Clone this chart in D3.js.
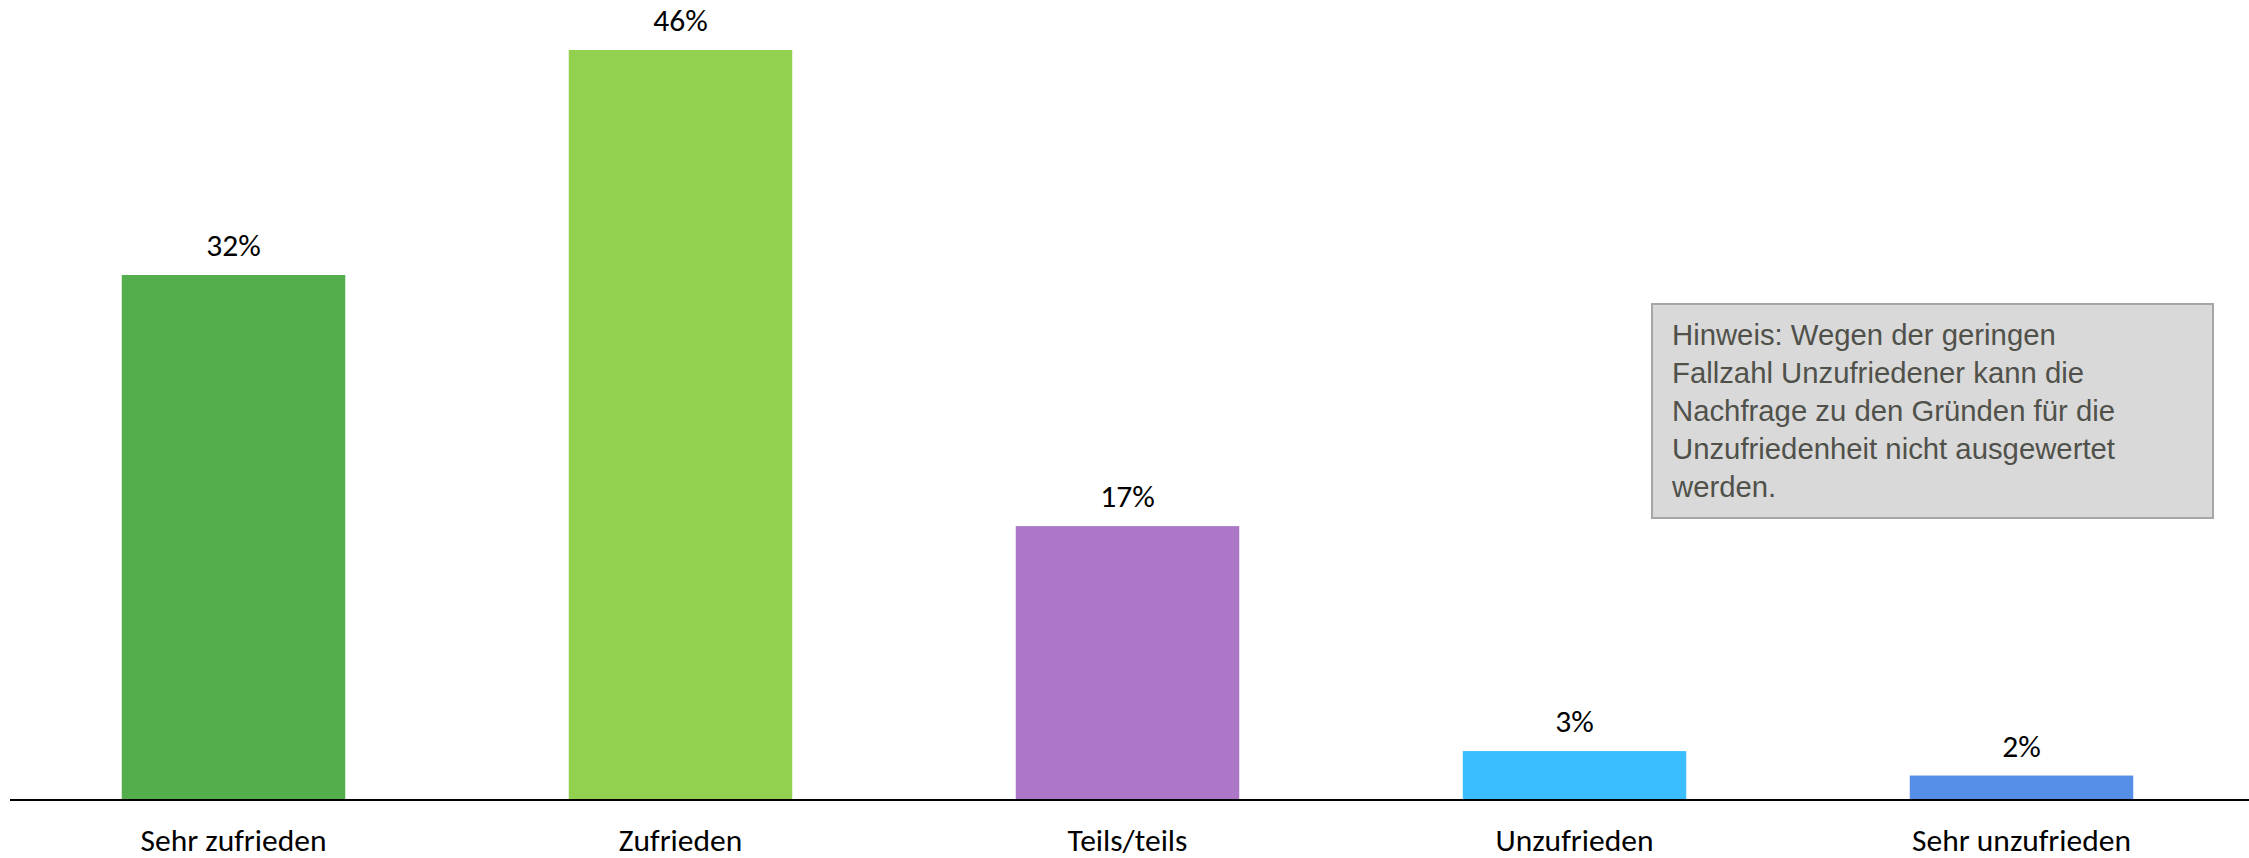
<!DOCTYPE html>
<html><head><meta charset="utf-8">
<script src="https://cdn.jsdelivr.net/npm/d3@7"></script>
<style>body{margin:0;background:#fff}svg{display:block}</style>
</head><body>
<script>
const categories = ["Sehr zufrieden","Zufrieden","Teils/teils","Unzufrieden","Sehr unzufrieden"];
const values = [32.2, 46, 16.8, 3, 1.5];
const valueLabels = ["32%","46%","17%","3%","2%"];
const colors = ["#54AE4B","#92D050","#AC77C7","#3BBEFF","#558EE6"];
const noteLines = ["Hinweis: Wegen der geringen","Fallzahl Unzufriedener kann die","Nachfrage zu den Gründen für die","Unzufriedenheit nicht ausgewertet","werden."];

const W = 2249, H = 858;
const svg = d3.select("body").append("svg").attr("width", W).attr("height", H);
const x = d3.scaleBand().domain(categories).range([10, 2245]).paddingInner(0.5).paddingOuter(0.25);
const y = d3.scaleLinear().domain([0, 46]).range([800, 50]);
const catFont = "Carlito, Lato, sans-serif";

svg.selectAll("rect.bar").data(values).join("rect").attr("class","bar")
  .attr("x", (d,i) => x(categories[i])).attr("width", x.bandwidth())
  .attr("y", d => y(d)).attr("height", d => y(0) - y(d))
  .attr("fill", (d,i) => colors[i]);

svg.selectAll("text.val").data(values).join("text").attr("class","val")
  .attr("x", (d,i) => x(categories[i]) + x.bandwidth()/2)
  .attr("y", d => y(d) - 19)
  .attr("text-anchor","middle").attr("font-family", catFont).attr("font-size", 31.5)
  .attr("fill","#000").text((d,i) => valueLabels[i]);

const axis = d3.axisBottom(x).tickSize(0).tickPadding(0);
const gx = svg.append("g").attr("transform","translate(0,800)").call(axis);
gx.select(".domain").attr("stroke","#000").attr("stroke-width",2).attr("d","M10,0H2249");
gx.selectAll(".tick text").attr("font-family", catFont).attr("font-size", 31.5)
  .attr("fill","#000").attr("dy", null).attr("y", 50.5);

// note box
const note = svg.append("g");
note.append("rect").attr("x",1652).attr("y",304).attr("width",561).attr("height",214)
  .attr("fill","#D9D9D9").attr("stroke","#A6A6A6").attr("stroke-width",2);
note.selectAll("text").data(noteLines).join("text")
  .attr("x",1672).attr("y",(d,i) => 345 + i*38)
  .attr("font-family","Liberation Sans, Arial, sans-serif").attr("font-size",29.3)
  .attr("fill","#50514A").text(d => d);
</script>
</body></html>
